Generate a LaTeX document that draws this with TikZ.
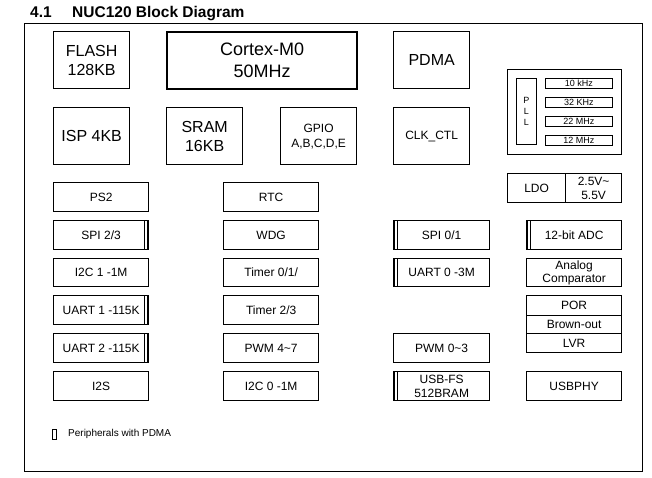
\documentclass[tikz,border=0pt]{standalone}
\usepackage{fontspec}
\setmainfont{Liberation Sans}
\newcommand\blk[7]{\node[box,#6,anchor=north west,minimum width={#4-#2},minimum height={#5-#3}] (#1) at (#2,#3) {#7};}
\newcommand\fs[2]{\fontsize{#1}{#2}\selectfont}
\begin{document}
\begin{tikzpicture}[x=1pt,y=-1pt,
  box/.style={draw,line width=1.3pt,inner sep=0pt,align=center,font=\fs{12}{14}},
  big/.style={font=\fs{16}{19}},
  thin/.style={line width=0.8pt},
  freq/.style={draw,line width=0.9pt,inner sep=0pt,font=\fs{9}{10}}]
\useasboundingbox (0,0) rectangle (652,477);
% title
\node[anchor=base west,inner sep=0pt,font=\bfseries\fs{15.5}{17}] (t1) at (30,17) {4.1};
\node[anchor=base west,inner sep=0pt,font=\bfseries\fs{15.5}{17}] (t2) at (72,17) {NUC120 Block Diagram};
% frame
\node[draw,line width=0.9pt,anchor=north west,minimum width=618,minimum height=448,inner sep=0pt] (frame) at (24,23) {};
% top blocks
\blk{flash}{53}{31}{129}{88}{big}{FLASH\\128KB}
\blk{cortex}{166}{31}{356}{88}{line width=2.4pt,font=\fs{18}{22}}{Cortex-M0\\50MHz}
\blk{pdma}{393}{31}{469}{88}{big}{PDMA}
\blk{isp}{53}{107}{129}{164}{big}{ISP 4KB}
\blk{sram}{166}{107}{242}{164}{big}{SRAM\\16KB}
\blk{gpio}{280}{107}{356}{164}{font=\fs{12}{15}}{GPIO\\A,B,C,D,E}
\blk{clk}{393}{107}{469}{164}{}{CLK\_CTL}
% PLL
\blk{pllbox}{507}{69}{621}{154}{}{}
\blk{pll}{516}{78}{536}{144}{thin,font=\fs{9}{11}}{P\\L\\L}
\node[freq,anchor=north west,minimum width=67,minimum height=10] (f1) at (545,78) {10 kHz};
\node[freq,anchor=north west,minimum width=67,minimum height=10] (f2) at (545,97) {32 KHz};
\node[freq,anchor=north west,minimum width=67,minimum height=10] (f3) at (545,116) {22 MHz};
\node[freq,anchor=north west,minimum width=67,minimum height=10] (f4) at (545,135) {12 MHz};
% LDO
\blk{ldo}{507}{173}{565}{202}{}{LDO}
\blk{volt}{565}{173}{621}{202}{font=\fs{12}{13.5}}{2.5V\textasciitilde\\5.5V}
% column 1
\blk{ps2}{53}{182}{148}{211}{}{PS2}
\blk{spi23}{53}{220}{148}{249}{}{SPI 2/3}
\blk{i2c1}{53}{258}{148}{286}{}{I2C 1 -1M}
\blk{uart1}{53}{295}{148}{324}{}{UART 1 -115K}
\blk{uart2}{53}{333}{148}{362}{}{UART 2 -115K}
\blk{i2s}{53}{371}{148}{400}{}{I2S}
% column 2
\blk{rtc}{223}{182}{318}{211}{}{RTC}
\blk{wdg}{223}{220}{318}{249}{}{WDG}
\blk{tmr01}{223}{258}{318}{286}{}{Timer 0/1/}
\blk{tmr23}{223}{295}{318}{324}{}{Timer 2/3}
\blk{pwm47}{223}{333}{318}{362}{}{PWM 4\textasciitilde 7}
\blk{i2c0}{223}{371}{318}{400}{}{I2C 0 -1M}
% column 3
\blk{spi01}{393}{220}{489}{249}{}{SPI 0/1}
\blk{uart0}{393}{258}{489}{286}{}{UART 0 -3M}
\blk{pwm03}{393}{333}{489}{362}{}{PWM 0\textasciitilde 3}
\blk{usb}{393}{371}{489}{400}{font=\fs{12}{14.5}}{USB-FS\\512BRAM}
% column 4
\blk{adc}{526}{220}{621}{249}{}{12-bit ADC}
\blk{acmp}{526}{258}{621}{286}{font=\fs{12}{13.5}}{Analog\\Comparator}
\blk{por}{526}{295}{621}{315}{}{POR}
\blk{bod}{526}{315}{621}{333}{}{Brown-out}
\blk{lvr}{526}{333}{621}{352}{}{LVR}
\blk{usbphy}{526}{371}{621}{400}{}{USBPHY}
% PDMA markers (right side)
\foreach \n in {spi23,uart1,uart2}{
  \draw[thin] ([xshift=-4.5pt]\n.north east) -- ([xshift=-4.5pt]\n.south east);
  \draw[line width=2pt] ([xshift=-1pt]\n.north east) -- ([xshift=-1pt]\n.south east);
}
% PDMA markers (left side)
\foreach \n in {spi01,uart0,usb,adc}{
  \draw[thin] ([xshift=4.5pt]\n.north west) -- ([xshift=4.5pt]\n.south west);
  \draw[line width=2pt] ([xshift=1pt]\n.north west) -- ([xshift=1pt]\n.south west);
}
% legend
\node[draw,line width=0.9pt,anchor=north west,minimum width=4,minimum height=10,inner sep=0pt] (leg) at (52,429) {};
\node[anchor=west,inner sep=0pt,font=\fs{10}{12}] (legt) at (68,434) {Peripherals with PDMA};
\end{tikzpicture}
\end{document}
